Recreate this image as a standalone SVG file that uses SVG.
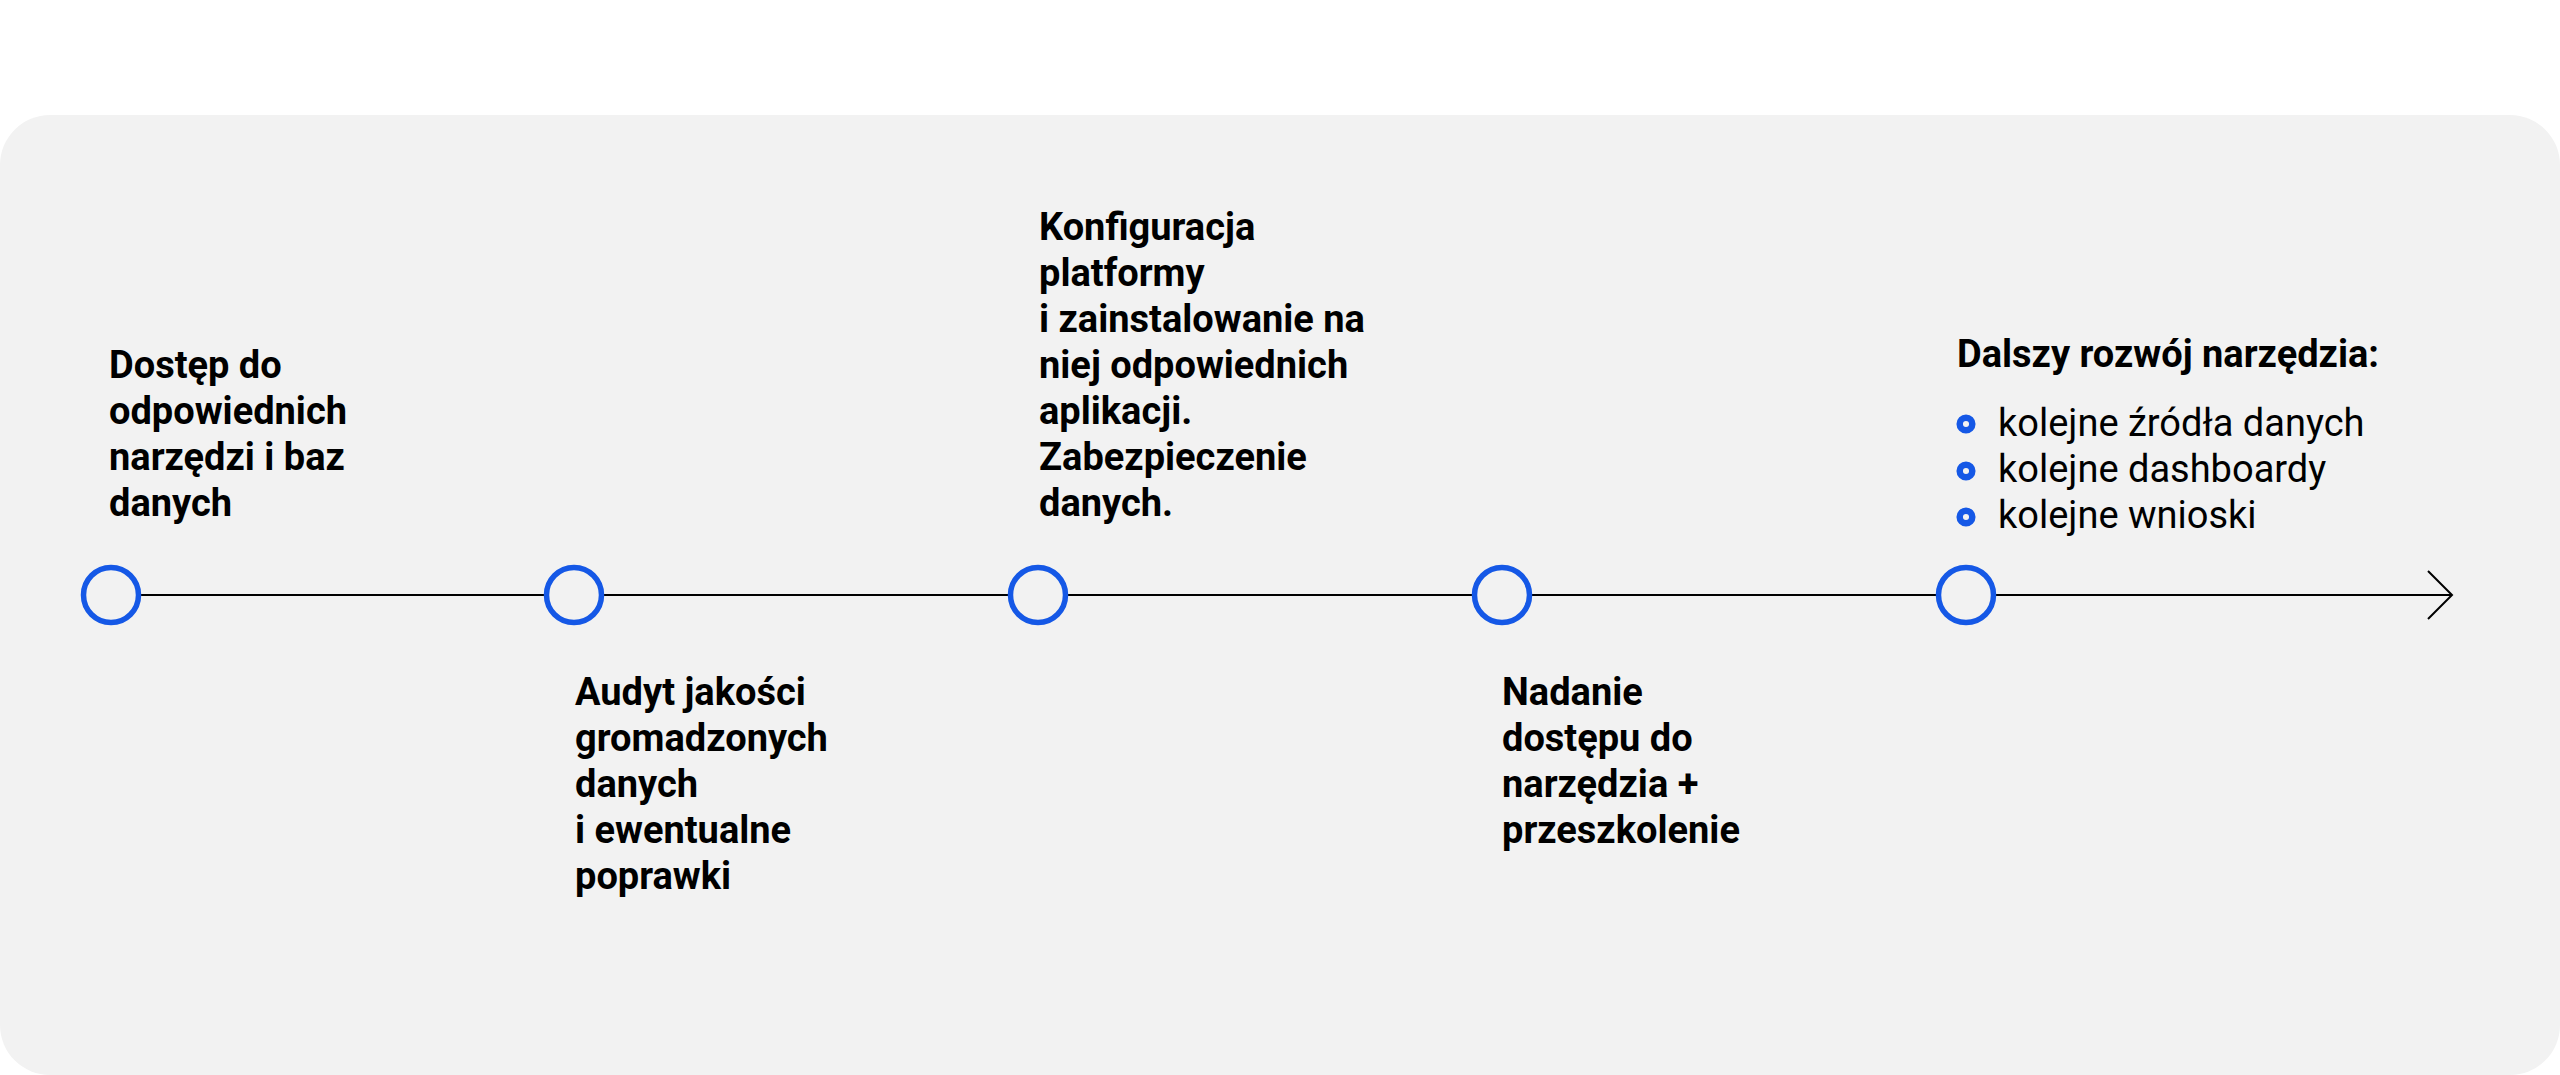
<svg xmlns="http://www.w3.org/2000/svg" width="2560" height="1075" viewBox="0 0 2560 1075">
<style>
.bg{fill:#f2f2f2}
.t{font-family:Roboto,"Liberation Sans",sans-serif;font-size:38px;fill:#000}
.b{font-weight:bold}
.r{font-weight:normal}
.node{fill:#f2f2f2;stroke:#1558e6;stroke-width:5.5}
.bul{fill:none;stroke:#1558e6;stroke-width:6.5}
.ln{stroke:#000;stroke-width:2;fill:none}
</style>
<rect x="0" y="0" width="2560" height="1075" fill="#ffffff"/>
<rect class="bg" x="0" y="115" width="2560" height="960" rx="50" ry="50"/>
<g id="connectors">
<line class="ln" x1="111" y1="595" x2="2451" y2="595"/>
<polyline class="ln" points="2428,571 2452,595 2428,619"/>
</g>
<g id="n1">
<circle class="node" cx="111" cy="595" r="27.5"/>
<text class="t b" x="109" y="378">
<tspan x="109" y="378">Dostęp do</tspan>
<tspan x="109" y="424">odpowiednich</tspan>
<tspan x="109" y="470">narzędzi i baz</tspan>
<tspan x="109" y="516">danych</tspan>
</text>
</g>
<g id="n2">
<circle class="node" cx="574" cy="595" r="27.5"/>
<text class="t b" x="575" y="705">
<tspan x="575" y="705">Audyt jakości</tspan>
<tspan x="575" y="751">gromadzonych</tspan>
<tspan x="575" y="797">danych</tspan>
<tspan x="575" y="843">i ewentualne</tspan>
<tspan x="575" y="889">poprawki</tspan>
</text>
</g>
<g id="n3">
<circle class="node" cx="1038" cy="595" r="27.5"/>
<text class="t b" x="1039" y="240">
<tspan x="1039" y="240">Konfiguracja</tspan>
<tspan x="1039" y="286">platformy</tspan>
<tspan x="1039" y="332">i zainstalowanie na</tspan>
<tspan x="1039" y="378">niej odpowiednich</tspan>
<tspan x="1039" y="424">aplikacji.</tspan>
<tspan x="1039" y="470">Zabezpieczenie</tspan>
<tspan x="1039" y="516">danych.</tspan>
</text>
</g>
<g id="n4">
<circle class="node" cx="1502" cy="595" r="27.5"/>
<text class="t b" x="1502" y="705">
<tspan x="1502" y="705">Nadanie</tspan>
<tspan x="1502" y="751">dostępu do</tspan>
<tspan x="1502" y="797">narzędzia +</tspan>
<tspan x="1502" y="843">przeszkolenie</tspan>
</text>
</g>
<g id="n5">
<circle class="node" cx="1966" cy="595" r="27.5"/>
<text class="t b" x="1957" y="367">Dalszy rozwój narzędzia:</text>
<circle class="bul" cx="1966" cy="424" r="6.3"/>
<circle class="bul" cx="1966" cy="471" r="6.3"/>
<circle class="bul" cx="1966" cy="517" r="6.3"/>
<text class="t r" x="1998" y="436">kolejne źródła danych</text>
<text class="t r" x="1998" y="482">kolejne dashboardy</text>
<text class="t r" x="1998" y="528">kolejne wnioski</text>
</g>
</svg>
